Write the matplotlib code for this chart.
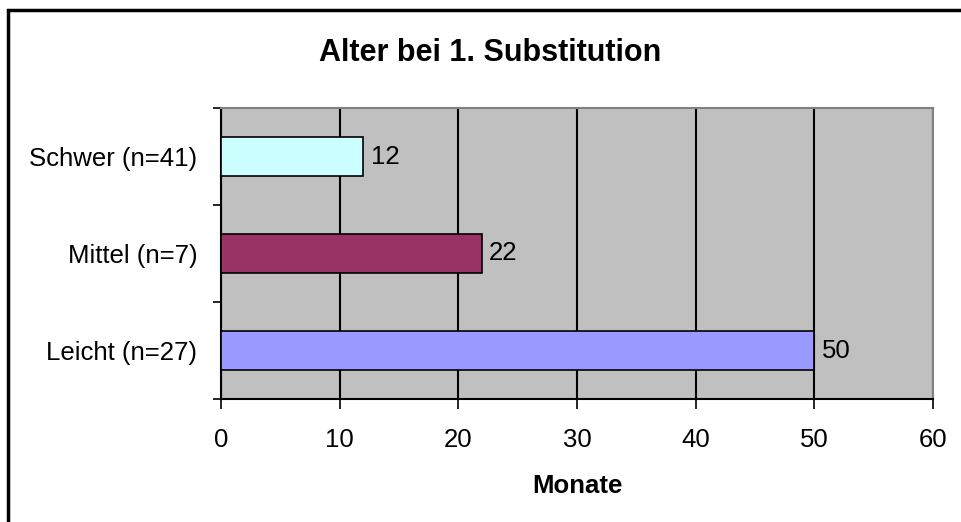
import matplotlib.pyplot as plt
from matplotlib.patches import Rectangle

plt.rcParams['font.family'] = ['Liberation Sans', 'DejaVu Sans']

categories = ["Leicht (n=27)", "Mittel (n=7)", "Schwer (n=41)"]
values = [50, 22, 12]
bar_colors = ["#9999FF", "#993366", "#CCFFFF"]

fig = plt.figure(figsize=(9.62, 5.22), dpi=100)
ax = fig.add_axes([221 / 962, 1 - 399 / 522, (933 - 221) / 962, (399 - 108) / 522])
ax.set_facecolor("#C0C0C0")

pos = range(len(categories))
ax.barh(pos, values, height=0.4, color=bar_colors, edgecolor="black", linewidth=1.2, zorder=3)
for y, v in zip(pos, values):
    ax.text(v + 0.6, y, str(v), va="center", ha="left", fontsize=18.5, zorder=4)

ax.set_xlim(0, 60)
ax.set_ylim(-0.5, 2.5)
ax.set_xticks(range(0, 61, 10))
ax.set_yticks(list(pos))
ax.set_yticklabels(categories)
ax.set_yticks([-0.5, 0.5, 1.5, 2.5], minor=True)
ax.tick_params(axis="y", which="major", length=0, pad=17, labelsize=18.5)
ax.tick_params(axis="y", which="minor", length=6, width=1.2, direction="out")
ax.tick_params(axis="x", length=7, width=1.2, direction="out", pad=14, labelsize=18.5)
ax.grid(axis="x", color="black", linewidth=1.5, zorder=1)
ax.set_axisbelow(True)

for s in ("top", "right"):
    ax.spines[s].set_color("#808080")
    ax.spines[s].set_linewidth(1.5)
for s in ("left", "bottom"):
    ax.spines[s].set_color("black")
    ax.spines[s].set_linewidth(1.5)

ax.set_xlabel("Monate", fontsize=18.5, fontweight="bold", labelpad=16)
fig.text(490 / 962, 1 - 53 / 522, "Alter bei 1. Substitution", ha="center", va="center",
         fontsize=22, fontweight="bold")

# Rahmen um das Diagramm
fig.patches.append(Rectangle((8 / 962, -0.05), 1.0, 1 - 10 / 522 + 0.05, transform=fig.transFigure,
                             fill=False, edgecolor="black", linewidth=2.5, clip_on=False))

fig.savefig("out.png", dpi=100)
